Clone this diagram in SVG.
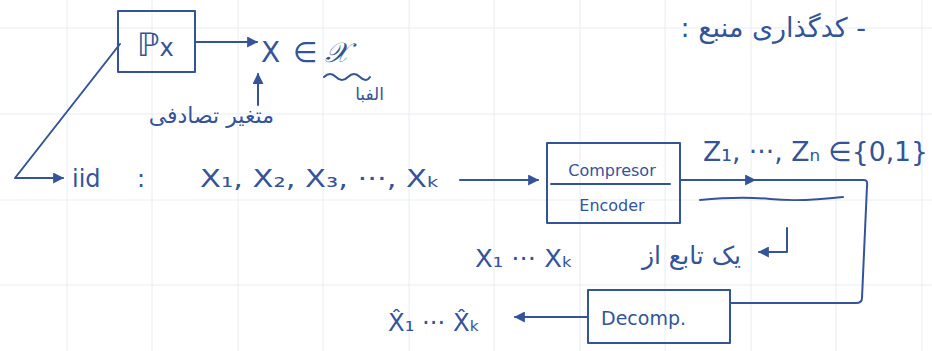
<svg xmlns="http://www.w3.org/2000/svg" width="932" height="351" viewBox="0 0 932 351">
  <style>
    .ink{fill:none;stroke:#34549a;stroke-width:2;stroke-linecap:round;stroke-linejoin:round}
    .grid{stroke:#e9ecf1;stroke-width:1}
    text{fill:#34549a;font-family:"DejaVu Sans","Liberation Sans",sans-serif}
    .fa{font-family:"DejaVu Sans",sans-serif}
  </style>
  <defs>
    <marker id="ah" viewBox="0 0 10 10" refX="9" refY="5" markerWidth="5.5" markerHeight="5.5" orient="auto" markerUnits="strokeWidth">
      <path d="M0,0 L10,5 L0,10 z" fill="#34549a"/>
    </marker>
  </defs>
  <rect width="932" height="351" fill="#ffffff"/>
  <g id="grid">
    <path class="grid" d="M67,0V351M152,0V351M238,0V351M323,0V351M409,0V351M494,0V351M580,0V351M665,0V351M751,0V351M836,0V351M922,0V351M0,28H932M0,114H932M0,200H932M0,285H932"/>
  </g>
  <g id="title">
    <text class="fa" x="866" y="37" font-size="27" direction="rtl" text-anchor="start">- کدگذاری منبع :</text>
  </g>
  <g id="connectors">
    <line class="ink" x1="195" y1="42" x2="257" y2="42" marker-end="url(#ah)"/>
    <line class="ink" x1="258" y1="105" x2="258" y2="74" marker-end="url(#ah)"/>
    <polyline class="ink" points="120,44 15,178 63,178" marker-end="url(#ah)"/>
    <line class="ink" x1="460" y1="180" x2="538" y2="180" marker-end="url(#ah)"/>
    <line class="ink" x1="680" y1="180" x2="755" y2="180" marker-end="url(#ah)"/>
    <path class="ink" d="M750,180 H864 Q868,180 867,186 L862,298 Q862,303 856,303 H730"/>
    <line class="ink" x1="588" y1="317" x2="515" y2="317" marker-end="url(#ah)"/>
    <path class="ink" d="M787,228 V252 H759" marker-end="url(#ah)"/>
    <path class="ink" d="M700,200 Q740,196 770,199 T843,197"/>
    <path class="ink" d="M324,77 q6,-6 12,0 t12,0 t12,0 t10,0"/>
  </g>
  <g id="px">
    <rect class="ink" x="118" y="11" width="77" height="61"/>
    <text x="137" y="56" font-size="32">ℙ<tspan font-size="24">x</tspan></text>
  </g>
  <g id="x-in-alphabet">
    <text font-size="28" y="62"><tspan x="261">X</tspan><tspan x="293">∈</tspan><tspan x="325" font-family="DejaVu Serif, serif" font-style="italic">𝒳</tspan></text>
    <text class="fa" x="384" y="100" font-size="17" text-anchor="end">الفبا</text>
    <text class="fa" x="274" y="123" font-size="22" text-anchor="end">متغیر تصادفی</text>
  </g>
  <g id="iid">
    <text font-size="24" y="187"><tspan x="72">iid</tspan><tspan x="137">:</tspan></text>
    <text x="200" y="187" font-size="25" textLength="240" lengthAdjust="spacingAndGlyphs">X₁, X₂, X₃, ···, Xₖ</text>
  </g>
  <g id="encoder">
    <rect class="ink" x="547" y="143" width="133" height="80"/>
    <line class="ink" x1="551" y1="184" x2="670" y2="184"/>
    <text x="612" y="176" font-size="16" text-anchor="middle">Compresor</text>
    <text x="612" y="211" font-size="16" text-anchor="middle">Encoder</text>
  </g>
  <g id="z-bits">
    <text x="703" y="161" font-size="27" textLength="225" lengthAdjust="spacingAndGlyphs">Z₁, ···, Zₙ ∈{0,1}</text>
  </g>
  <g id="function-note">
    <text class="fa" x="741" y="264" font-size="25" direction="rtl" text-anchor="start">یک تابع از</text>
    <text x="475" y="267" font-size="24" textLength="98" lengthAdjust="spacingAndGlyphs">X₁ ··· Xₖ</text>
  </g>
  <g id="decoder">
    <rect class="ink" x="588" y="290" width="142" height="53"/>
    <text x="601" y="325" font-size="19">Decomp.</text>
  </g>
  <g id="estimate">
    <text x="388" y="331" font-size="24" textLength="92" lengthAdjust="spacingAndGlyphs">X̂₁ ··· X̂ₖ</text>
  </g>
</svg>
